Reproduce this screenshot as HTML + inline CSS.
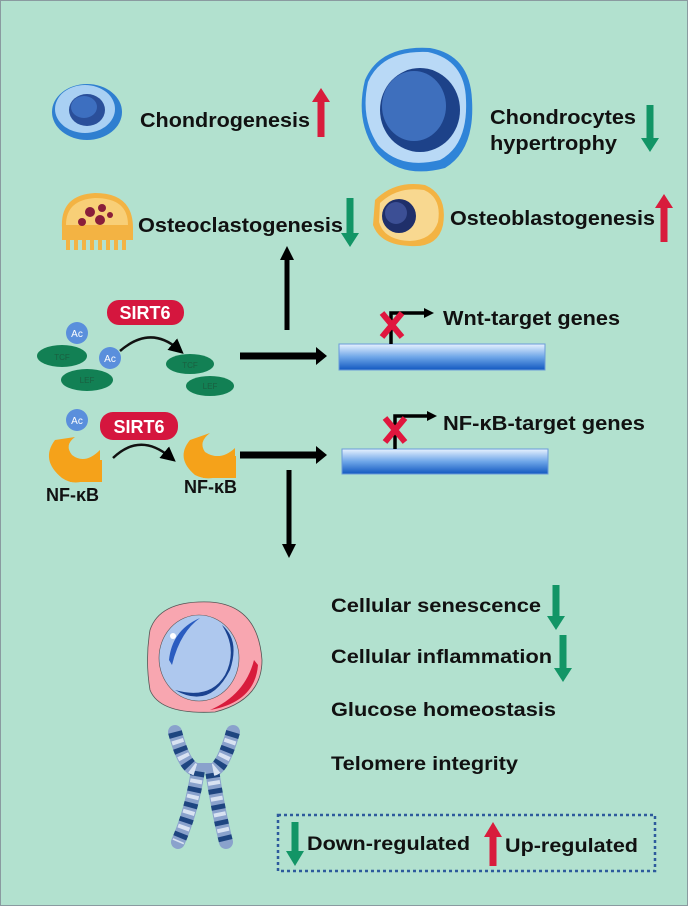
<!DOCTYPE html>
<html><head><meta charset="utf-8"><style>
html,body{margin:0;padding:0;background:#b2e1cf;}
svg{display:block;}
text{font-family:"Liberation Sans",Arial,sans-serif;font-weight:bold;fill:#111;}
</style></head><body>
<svg width="688" height="906" viewBox="0 0 688 906" xmlns="http://www.w3.org/2000/svg">
<defs>
<linearGradient id="bar" x1="0" y1="0" x2="0" y2="1">
<stop offset="0" stop-color="#e8f2ff"/><stop offset="0.5" stop-color="#6ea6e8"/><stop offset="1" stop-color="#1258c0"/></linearGradient>
<marker id="ahs" markerWidth="6" markerHeight="6" refX="3" refY="3" orient="auto"><path d="M0,0 L6,3 L0,6z" fill="#000"/></marker>
</defs>
<rect x="0.5" y="0.5" width="687" height="905" fill="#b2e1cf" stroke="#8a9aa0"/>

<ellipse cx="87" cy="112" rx="35" ry="28" fill="#2f7fd0"/>
<ellipse cx="85" cy="109" rx="30" ry="24" fill="#a9d0f3"/>
<ellipse cx="87" cy="110" rx="18" ry="16" fill="#2a4f9a"/>
<ellipse cx="84" cy="107" rx="13" ry="11" fill="#3d6fc0"/>
<text x="140" y="127" font-size="20" textLength="170" lengthAdjust="spacingAndGlyphs">Chondrogenesis</text>
<path d="M321,137 V100" stroke="#d81c3c" stroke-width="7"/><path d="M312,102 L321,88 L330,102z" fill="#d81c3c"/>

<path d="M365,80 Q380,45 430,48 Q470,55 472,100 Q475,150 445,168 Q400,180 375,150 Q355,120 365,80z" fill="#2f84d8"/>
<path d="M368,82 Q382,50 428,52 Q465,60 466,100 Q468,145 440,160 Q400,170 378,145 Q360,118 368,82z" fill="#b9d9f6"/>
<ellipse cx="420" cy="110" rx="40" ry="42" fill="#1d4289"/>
<ellipse cx="414" cy="106" rx="32" ry="35" fill="#3e6fbd"/>
<text x="490" y="124" font-size="20" textLength="146" lengthAdjust="spacingAndGlyphs">Chondrocytes</text>
<text x="490" y="150" font-size="20" textLength="127" lengthAdjust="spacingAndGlyphs">hypertrophy</text>
<path d="M650,105 V140" stroke="#129566" stroke-width="7"/><path d="M641,138 L650,152 L659,138z" fill="#129566"/>

<path d="M62,228 Q60,195 95,193 Q133,193 133,228 L133,240 L62,240z" fill="#f3b343"/>
<path d="M66,225 Q66,200 95,198 Q128,198 128,225z" fill="#f8cf77"/>
<g stroke="#f3b343" stroke-width="4"><path d="M68,240v10M76,240v10M84,240v10M92,240v10M100,240v10M108,240v10M116,240v10M124,240v10"/></g>
<circle cx="90" cy="212" r="5" fill="#8a1e3a"/><circle cx="102" cy="208" r="4" fill="#8a1e3a"/><circle cx="82" cy="222" r="4" fill="#8a1e3a"/><circle cx="100" cy="220" r="5" fill="#8a1e3a"/><circle cx="110" cy="215" r="3" fill="#8a1e3a"/>
<text x="138" y="232" font-size="20" textLength="205" lengthAdjust="spacingAndGlyphs">Osteoclastogenesis</text>
<path d="M350,198 V235" stroke="#129566" stroke-width="7"/><path d="M341,233 L350,247 L359,233z" fill="#129566"/>

<path d="M375,200 Q395,180 425,185 Q448,195 443,225 Q438,248 410,246 Q380,245 373,225z" fill="#f3b343"/>
<path d="M380,203 Q398,186 424,190 Q442,198 438,222 Q432,240 410,241 Q384,240 379,222z" fill="#f8d890"/>
<circle cx="399" cy="216" r="17" fill="#1f2f6a"/><circle cx="396" cy="213" r="11" fill="#3c4f95"/>
<text x="450" y="225" font-size="20" textLength="205" lengthAdjust="spacingAndGlyphs">Osteoblastogenesis</text>
<path d="M664,242 V206" stroke="#d81c3c" stroke-width="7"/><path d="M655,208 L664,194 L673,208z" fill="#d81c3c"/>

<path d="M287,330 V258" stroke="#000" stroke-width="5"/><path d="M280,260 L287,246 L294,260z" fill="#000"/>

<rect x="107" y="300" width="77" height="25" rx="12" fill="#d5163e"/>
<text x="145" y="319" font-size="18" text-anchor="middle" style="fill:#fff">SIRT6</text>
<ellipse cx="62" cy="356" rx="25" ry="11" fill="#128054"/><text x="62" y="360" font-size="8" text-anchor="middle" style="fill:#1a5f40;font-weight:normal">TCF</text>
<ellipse cx="87" cy="380" rx="26" ry="11" fill="#128054"/><text x="87" y="383" font-size="8" text-anchor="middle" style="fill:#1a5f40;font-weight:normal">LEF</text>
<circle cx="77" cy="333" r="11" fill="#5a8fdc"/><text x="77" y="337" font-size="10" text-anchor="middle" style="fill:#fff;font-weight:normal">Ac</text>
<circle cx="110" cy="358" r="11" fill="#5a8fdc"/><text x="110" y="362" font-size="10" text-anchor="middle" style="fill:#fff;font-weight:normal">Ac</text>
<path d="M120,351 Q150,325 178,349" stroke="#111" stroke-width="2.5" fill="none" marker-end="url(#ahs)"/>
<ellipse cx="190" cy="364" rx="24" ry="10" fill="#128054"/><text x="190" y="368" font-size="8" text-anchor="middle" style="fill:#1a5f40;font-weight:normal">TCF</text>
<ellipse cx="210" cy="386" rx="24" ry="10" fill="#128054"/><text x="210" y="389" font-size="8" text-anchor="middle" style="fill:#1a5f40;font-weight:normal">LEF</text>
<path d="M240,356 H318" stroke="#000" stroke-width="7"/><path d="M316,347 L327,356 L316,365z" fill="#000"/>
<rect x="339" y="344" width="206" height="26" fill="url(#bar)" stroke="#6a9ad8"/>
<path d="M391,344 V313 H425" stroke="#000" stroke-width="3.5" fill="none"/><path d="M424,308 L434,313 L424,318z" fill="#000"/>
<path d="M382,313 L402,337 M402,313 L382,337" stroke="#e0163e" stroke-width="6"/>
<text x="443" y="325" font-size="20" textLength="177" lengthAdjust="spacingAndGlyphs">Wnt-target genes</text>

<rect x="100" y="412" width="78" height="28" rx="13" fill="#d5163e"/>
<text x="139" y="433" font-size="18" text-anchor="middle" style="fill:#fff">SIRT6</text>
<circle cx="77" cy="420" r="11" fill="#5a8fdc"/><text x="77" y="424" font-size="10" text-anchor="middle" style="fill:#fff;font-weight:normal">Ac</text>
<path d="M55,440 Q40,460 62,478 Q80,490 100,470 L100,450 Q85,465 72,455 Q64,445 75,437z" fill="#f5a21a"/>
<rect x="70" y="460" width="32" height="22" fill="#f5a21a"/>
<text x="46" y="501" font-size="18">NF-κB</text>
<path d="M113,458 Q140,432 170,457" stroke="#111" stroke-width="2.5" fill="none" marker-end="url(#ahs)"/>
<path d="M190,440 Q175,458 195,475 Q215,485 235,465 L235,448 Q220,462 205,452 Q198,442 210,433z" fill="#f5a21a"/>
<rect x="203" y="456" width="33" height="22" fill="#f5a21a"/>
<text x="184" y="493" font-size="18">NF-κB</text>
<path d="M240,455 H318" stroke="#000" stroke-width="7"/><path d="M316,446 L327,455 L316,464z" fill="#000"/>
<rect x="342" y="449" width="206" height="25" fill="url(#bar)" stroke="#6a9ad8"/>
<path d="M395,449 V416 H428" stroke="#000" stroke-width="3.5" fill="none"/><path d="M427,411 L437,416 L427,421z" fill="#000"/>
<path d="M385,418 L405,442 M405,418 L385,442" stroke="#e0163e" stroke-width="6"/>
<text x="443" y="430" font-size="20" textLength="202" lengthAdjust="spacingAndGlyphs">NF-κB-target genes</text>

<path d="M289,470 V546" stroke="#000" stroke-width="5"/><path d="M282,544 L289,558 L296,544z" fill="#000"/>

<path d="M150,630 Q160,600 210,602 Q258,605 262,660 Q262,700 215,712 Q160,715 150,690 Q145,660 150,630z" fill="#f8a6b0" stroke="#555" stroke-width="0.8"/>
<path d="M258,665 Q255,702 210,710 Q245,695 254,660z" fill="#d81c3c"/>
<ellipse cx="199" cy="658" rx="40" ry="43" fill="#aec8ee" stroke="#555" stroke-width="0.6"/>
<path d="M175,690 Q210,710 230,670 Q240,640 222,625 Q238,650 225,675 Q210,700 175,690z" fill="#1a4290"/>
<path d="M169,660 Q172,630 200,618 Q180,632 172,665z" fill="#2a5cc0"/>
<circle cx="173" cy="636" r="3" fill="#fff"/>
<path d="M175,732 Q185,770 198,770 Q192,810 178,842" stroke="#8aa2cc" stroke-width="14" stroke-linecap="round" fill="none"/>
<path d="M175,732 Q185,770 198,770 Q192,810 178,842" stroke="#1e4580" stroke-width="14" stroke-linecap="butt" fill="none" stroke-dasharray="5,11"/>
<path d="M175,732 Q185,770 198,770 Q192,810 178,842" stroke="#d8e2f2" stroke-width="12" stroke-linecap="butt" fill="none" stroke-dasharray="4,12" stroke-dashoffset="8"/>
<path d="M233,732 Q222,770 212,770 Q218,810 226,842" stroke="#8aa2cc" stroke-width="14" stroke-linecap="round" fill="none"/>
<path d="M233,732 Q222,770 212,770 Q218,810 226,842" stroke="#1e4580" stroke-width="14" stroke-linecap="butt" fill="none" stroke-dasharray="5,11"/>
<path d="M233,732 Q222,770 212,770 Q218,810 226,842" stroke="#d8e2f2" stroke-width="12" stroke-linecap="butt" fill="none" stroke-dasharray="4,12" stroke-dashoffset="8"/>

<text x="331" y="612" font-size="19" textLength="210" lengthAdjust="spacingAndGlyphs">Cellular senescence</text>
<path d="M556,585 V618" stroke="#129566" stroke-width="7"/><path d="M547,616 L556,630 L565,616z" fill="#129566"/>
<text x="331" y="663" font-size="19" textLength="221" lengthAdjust="spacingAndGlyphs">Cellular inflammation</text>
<path d="M563,635 V670" stroke="#129566" stroke-width="7"/><path d="M554,668 L563,682 L572,668z" fill="#129566"/>
<text x="331" y="716" font-size="19" textLength="225" lengthAdjust="spacingAndGlyphs">Glucose homeostasis</text>
<text x="331" y="770" font-size="19" textLength="187" lengthAdjust="spacingAndGlyphs">Telomere integrity</text>

<rect x="278" y="815" width="377" height="56" fill="none" stroke="#2d5a9c" stroke-width="2.5" stroke-dasharray="3,3"/>
<path d="M295,822 V853" stroke="#129566" stroke-width="7"/><path d="M286,851 L295,866 L304,851z" fill="#129566"/>
<text x="307" y="850" font-size="19" textLength="163" lengthAdjust="spacingAndGlyphs">Down-regulated</text>
<path d="M493,866 V835" stroke="#d81c3c" stroke-width="7"/><path d="M484,837 L493,822 L502,837z" fill="#d81c3c"/>
<text x="505" y="852" font-size="19" textLength="133" lengthAdjust="spacingAndGlyphs">Up-regulated</text>
</svg>
</body></html>
